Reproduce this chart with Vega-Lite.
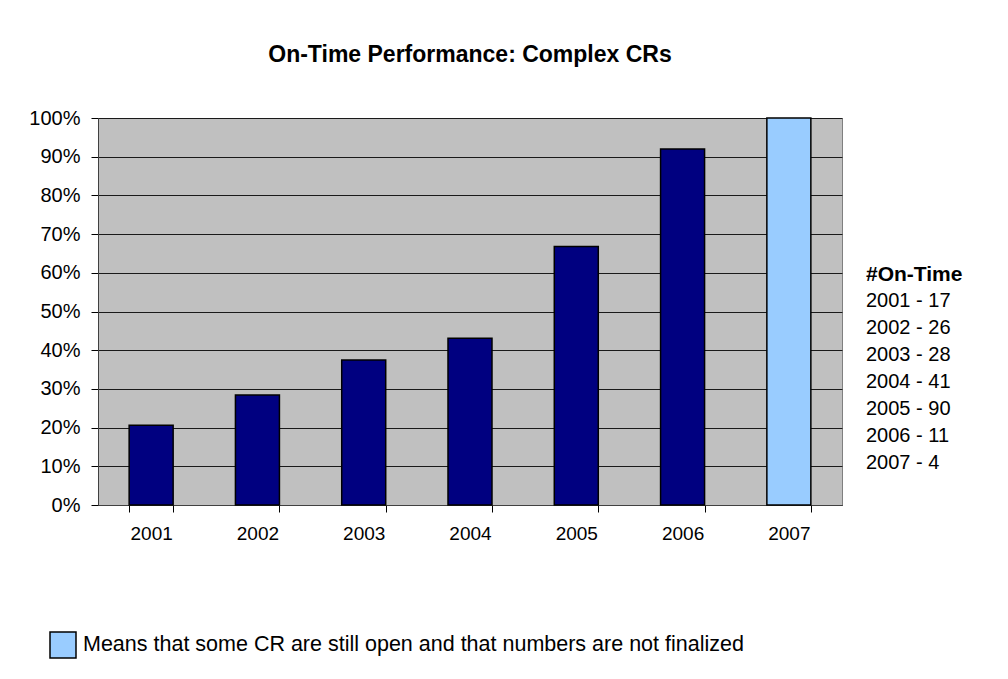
{
  "$schema": "https://vega.github.io/schema/vega-lite/v6.json",
  "width": 744,
  "height": 387,
  "autosize": {"type": "none"},
  "padding": {"left": 98, "top": 118, "right": 166, "bottom": 174},
  "background": "white",
  "title": {
    "text": "On-Time Performance: Complex CRs",
    "font": "Liberation Sans",
    "fontSize": 23,
    "fontWeight": "bold",
    "color": "black",
    "anchor": "middle",
    "offset": 41
  },
  "data": {
    "values": [
      {"year": "2001", "pct": 0.206, "status": "Finalized", "onTime": "2001 - 17"},
      {"year": "2002", "pct": 0.284, "status": "Finalized", "onTime": "2002 - 26"},
      {"year": "2003", "pct": 0.375, "status": "Finalized", "onTime": "2003 - 28"},
      {"year": "2004", "pct": 0.431, "status": "Finalized", "onTime": "2004 - 41"},
      {"year": "2005", "pct": 0.668, "status": "Finalized", "onTime": "2005 - 90"},
      {"year": "2006", "pct": 0.92, "status": "Finalized", "onTime": "2006 - 11"},
      {"year": "2007", "pct": 1.0, "status": "Means that some CR are still open and that numbers are not finalized", "onTime": "2007 - 4"}
    ]
  },
  "mark": {"type": "bar", "stroke": "black", "strokeWidth": 1.5},
  "encoding": {
    "x": {
      "field": "year",
      "type": "ordinal",
      "scale": {"paddingInner": 0.586, "paddingOuter": 0.293},
      "axis": {
        "title": null,
        "labelAngle": 0,
        "labelFont": "Liberation Sans",
        "labelFontSize": 19,
        "labelColor": "black",
        "labelPadding": 12,
        "tickBand": "extent",
        "tickSize": 7,
        "tickColor": "black",
        "domainColor": "#404040",
        "grid": false
      }
    },
    "y": {
      "field": "pct",
      "type": "quantitative",
      "scale": {"domain": [0, 1], "nice": false},
      "axis": {
        "title": null,
        "format": ".0%",
        "values": [0, 0.1, 0.2, 0.3, 0.4, 0.5, 0.6, 0.7, 0.8, 0.9, 1.0],
        "labelFont": "Liberation Sans",
        "labelFontSize": 20,
        "labelColor": "black",
        "labelPadding": 11,
        "tickSize": 7,
        "tickColor": "black",
        "domainColor": "#404040",
        "grid": true,
        "gridColor": "#1a1a1a",
        "gridWidth": 1,
        "gridOpacity": 1
      }
    },
    "color": {
      "field": "status",
      "type": "nominal",
      "scale": {
        "domain": ["Finalized", "Means that some CR are still open and that numbers are not finalized"],
        "range": ["#000080", "#99CCFF"]
      },
      "legend": {
        "values": ["Means that some CR are still open and that numbers are not finalized"],
        "orient": "none",
        "legendX": -49,
        "legendY": 513,
        "padding": 0,
        "title": null,
        "symbolType": "square",
        "symbolSize": 676,
        "symbolStrokeColor": "black",
        "symbolStrokeWidth": 1.5,
        "symbolFillColor": "#99CCFF",
        "labelFont": "Liberation Sans",
        "labelFontSize": 21.5,
        "labelColor": "black",
        "labelOffset": 6,
        "labelLimit": 0
      }
    },
    "opacity": {
      "field": "onTime",
      "type": "ordinal",
      "scale": {"range": [1, 1]},
      "legend": {
        "orient": "none",
        "legendX": 768,
        "legendY": 146,
        "padding": 0,
        "title": "#On-Time",
        "titleFont": "Liberation Sans",
        "titleFontSize": 21,
        "titleFontWeight": "bold",
        "titleColor": "black",
        "titlePadding": 6,
        "symbolSize": 0,
        "symbolOpacity": 0,
        "symbolStrokeWidth": 0,
        "labelFont": "Liberation Sans",
        "labelFontSize": 20,
        "labelColor": "black",
        "labelOffset": -20,
        "rowPadding": 7
      }
    }
  },
  "config": {
    "view": {"fill": "#C0C0C0", "stroke": "#808080", "strokeWidth": 1}
  }
}
